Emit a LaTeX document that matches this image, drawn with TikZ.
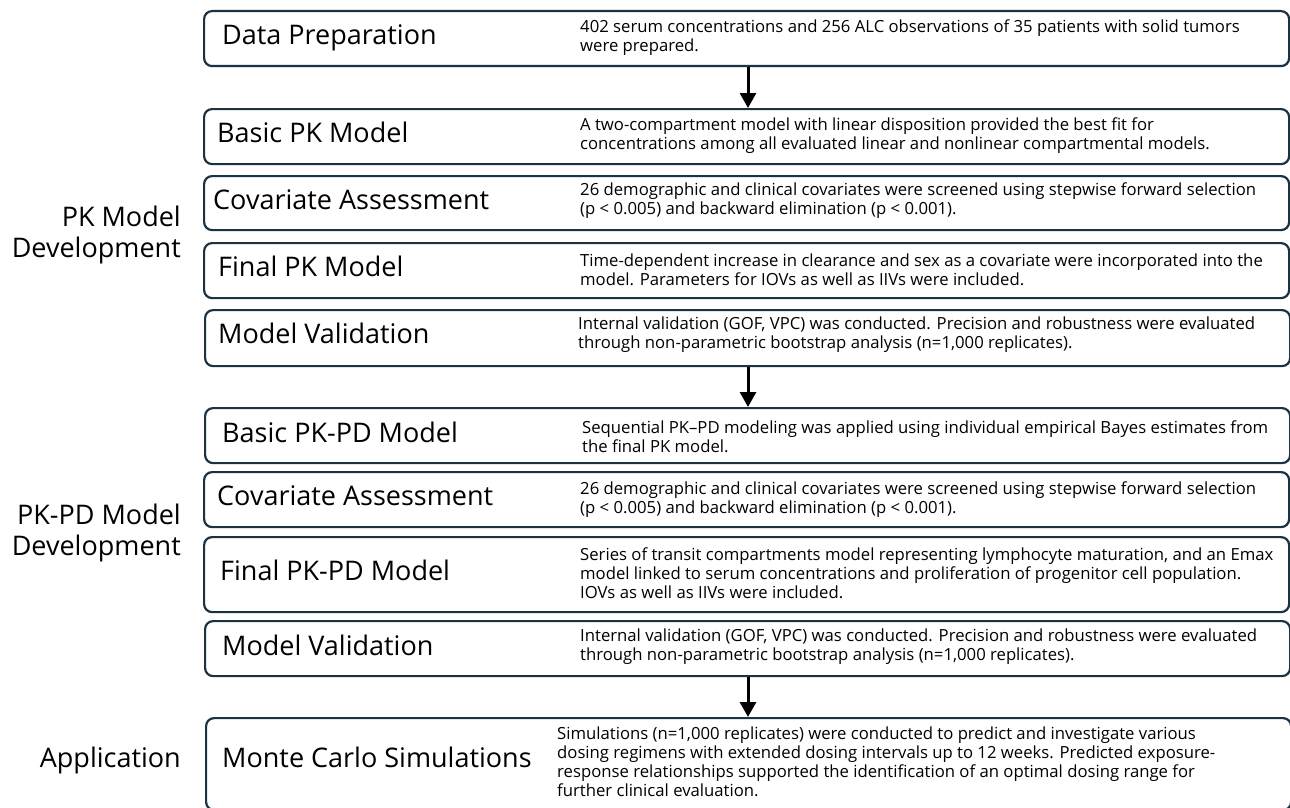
\documentclass[tikz,border=0pt]{standalone}
\usepackage{fontspec}
\setmainfont{Open Sans}
\usetikzlibrary{arrows.meta}
\definecolor{boxcol}{RGB}{27,50,66}
\begin{document}
\begin{tikzpicture}[x=1pt,y=-1pt,
  stage/.style={draw=boxcol, line width=2.2pt, rounded corners=8pt, anchor=north west, minimum width=1085pt, inner sep=0pt},
  ttl/.style={anchor=west, inner sep=0pt, font=\fontsize{27}{32}\selectfont, text height=20pt, text depth=6pt},
  dsc/.style={anchor=west, inner sep=0pt, align=left, font=\fontsize{16.7}{19}\selectfont},
  side/.style={anchor=east, inner sep=0pt, align=right, font=\fontsize{27}{31}\selectfont},
  arr/.style={line width=3pt, -{Triangle[width=16pt,length=15pt]}}]
\useasboundingbox (0,0) rectangle (1290,808);
\clip (0,0) rectangle (1290,808);
\coordinate (ax) at (748,0);
% boxes
\node[stage, minimum height=55pt] (b1) at (203,10) {};
\node[stage, minimum height=55pt] (b2) at (203,108) {};
\node[stage, minimum height=54pt] (b3) at (203,175) {};
\node[stage, minimum height=55pt] (b4) at (203,242) {};
\node[stage, minimum height=56pt] (b5) at (204,309) {};
\node[stage, minimum height=55pt] (b6) at (204,407) {};
\node[stage, minimum height=55pt] (b7) at (203,471) {};
\node[stage, minimum height=75pt] (b8) at (203,536) {};
\node[stage, minimum height=55pt] (b9) at (204,620) {};
\node[stage, minimum height=92pt] (b10) at (205,717) {};
% titles
\node[ttl] (t1) at (222,37.5) {Data Preparation};
\node[ttl] (t2) at (217,135.5) {Basic PK Model};
\node[ttl] (t3) at (213,202) {Covariate Assessment};
\node[ttl] (t4) at (218,269.5) {Final PK Model};
\node[ttl] (t5) at (218,336) {Model Validation};
\node[ttl] (t6) at (222,435) {Basic PK-PD Model};
\node[ttl] (t7) at (217,498.5) {Covariate Assessment};
\node[ttl] (t8) at (220,573.5) {Final PK-PD Model};
\node[ttl] (t9) at (222,648) {Model Validation};
\node[ttl] (t10) at (222,760) {Monte Carlo Simulations};
% descriptions
\node[dsc] (d1) at (580,37.5) {402 serum concentrations and 256 ALC observations of 35 patients with solid tumors\\were prepared.};
\node[dsc] (d2) at (580,135.5) {A two-compartment model with linear disposition provided the best fit for\\concentrations among all evaluated linear and nonlinear compartmental models.};
\node[dsc] (d3) at (580,201) {26 demographic and clinical covariates were screened using stepwise forward selection\\(p < 0.005) and backward elimination (p < 0.001).};
\node[dsc] (d4) at (580,269.5) {Time-dependent increase in clearance and sex as a covariate were incorporated into the\\model. Parameters for IOVs as well as IIVs were included.};
\node[dsc] (d5) at (578,334.5) {Internal validation (GOF, VPC) was conducted. Precision and robustness were evaluated\\through non-parametric bootstrap analysis (n=1,000 replicates).};
\node[dsc] (d6) at (582,436.5) {Sequential PK–PD modeling was applied using individual empirical Bayes estimates from\\the final PK model.};
\node[dsc] (d7) at (580,499.5) {26 demographic and clinical covariates were screened using stepwise forward selection\\(p < 0.005) and backward elimination (p < 0.001).};
\node[dsc] (d8) at (580,573) {Series of transit compartments model representing lymphocyte maturation, and an Emax\\model linked to serum concentrations and proliferation of progenitor cell population.\\IOVs as well as IIVs were included.};
\node[dsc] (d9) at (580,646.5) {Internal validation (GOF, VPC) was conducted. Precision and robustness were evaluated\\through non-parametric bootstrap analysis (n=1,000 replicates).};
\node[dsc] (d10) at (557,761.5) {Simulations (n=1,000 replicates) were conducted to predict and investigate various\\dosing regimens with extended dosing intervals up to 12 weeks. Predicted exposure-\\response relationships supported the identification of an optimal dosing range for\\further clinical evaluation.};
% side labels
\node[side] (s1) at (181,235) {PK Model\\Development};
\node[side] (s2) at (181,533) {PK-PD Model\\Development};
\node[side] (s3) at (181,760) {Application};
% arrows
\draw[arr] (b1.south -| ax) -- (b2.north -| ax);
\draw[arr] (b5.south -| ax) -- (b6.north -| ax);
\draw[arr] (b9.south -| ax) -- (b10.north -| ax);
\end{tikzpicture}
\end{document}
